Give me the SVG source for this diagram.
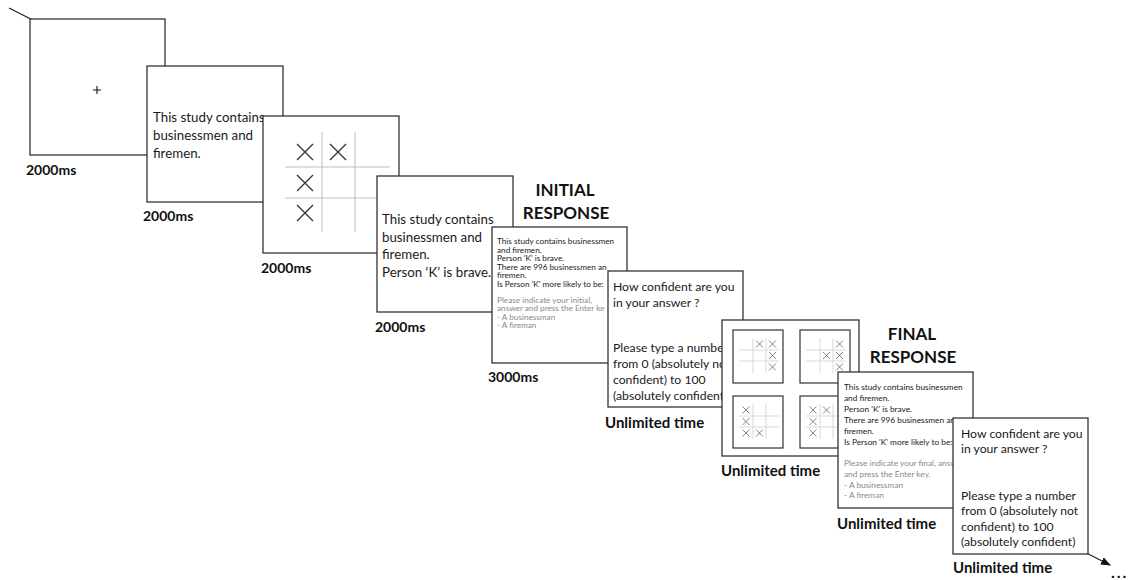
<svg xmlns="http://www.w3.org/2000/svg" width="1137" height="580" viewBox="0 0 1137 580">
<defs>
<style>
.box{fill:#fff;stroke:#333;stroke-width:1.3}
.sub{fill:#fff;stroke:#333;stroke-width:1.2}
.t{font-family:Lato,"Liberation Sans",sans-serif;fill:#1a1a1a}
.m{font-size:13.3px}
.c{font-size:12.2px}
.s{font-size:8.2px}
.s2{font-size:8.3px}
.g{fill:#8a8a8a}
.lbl{font-family:Lato,"Liberation Sans",sans-serif;font-weight:bold;fill:#111;font-size:14px}
.ut{font-size:15px}
.hd{font-size:17px;text-anchor:middle}
.grid{stroke:#bdbdbd;stroke-width:1;fill:none}
.sgrid{stroke:#cfcfcf;stroke-width:0.8;fill:none}
.x{stroke:#333;stroke-width:1.3;fill:none}
.sx{stroke:#666;stroke-width:0.8;fill:none}
</style>
<marker id="ah" markerWidth="10" markerHeight="8" refX="9" refY="4" orient="auto" markerUnits="userSpaceOnUse">
<path d="M0 0 L10 4 L0 8 Z" fill="#111"/>
</marker>
</defs>
<rect width="1137" height="580" fill="#fff"/>
<g id="connectors">
<line x1="9" y1="8" x2="1110" y2="565" stroke="#222" stroke-width="1.2" marker-end="url(#ah)"/>
</g>
<g id="fixation">
<rect class="box" x="30" y="19" width="135" height="136"/>
<path d="M93 90 H101 M97 86 V94" stroke="#111" stroke-width="1.1"/>
<text class="lbl" x="26" y="175">2000ms</text>
</g>
<g id="intro">
<rect class="box" x="147" y="66" width="136" height="136"/>
<text class="t m" x="153" y="122">This study contains</text>
<text class="t m" x="153" y="140">businessmen and</text>
<text class="t m" x="153" y="158">firemen.</text>
<text class="lbl" x="143" y="221">2000ms</text>
</g>
<g id="grid">
<rect class="box" x="263" y="116" width="136" height="137"/>
<path class="grid" d="M285 167 H390 M285 198 H390 M322 132 V232 M355 132 V232"/>
<path class="x" d="M297 144 L313 160 M313 144 L297 160 M330 144 L346 160 M346 144 L330 160 M297 175 L313 191 M313 175 L297 191 M297 205 L313 221 M313 205 L297 221"/>
<text class="lbl" x="261" y="273">2000ms</text>
</g>
<g id="person">
<rect class="box" x="377" y="176" width="136" height="136"/>
<text class="t m" x="382" y="224">This study contains</text>
<text class="t m" x="382" y="242">businessmen and</text>
<text class="t m" x="382" y="259">firemen.</text>
<text class="t m" x="382" y="277">Person ‘K’ is brave.</text>
<text class="lbl" x="375" y="332">2000ms</text>
</g>
<g id="initial-response">
<text class="lbl hd" x="565" y="196">INITIAL</text>
<text class="lbl hd" x="566" y="219">RESPONSE</text>
<rect class="box" x="492" y="227" width="135" height="136"/>
<text class="t s" x="497" y="244">This study contains businessmen</text>
<text class="t s" x="497" y="252.5">and firemen.</text>
<text class="t s" x="497" y="261">Person 'K' is brave.</text>
<text class="t s" x="497" y="269.5">There are 996 businessmen an</text>
<text class="t s" x="497" y="278">firemen.</text>
<text class="t s" x="497" y="286.5">Is Person 'K' more likely to be:</text>
<text class="t s g" x="497" y="302.5">Please indicate your initial,</text>
<text class="t s g" x="497" y="311">answer and press the Enter ke</text>
<text class="t s g" x="497" y="319.5">- A businessman</text>
<text class="t s g" x="497" y="328">- A fireman</text>
<text class="lbl" x="488" y="382">3000ms</text>
</g>
<g id="confidence-1">
<rect class="box" x="608" y="271" width="135" height="136"/>
<text class="t c" x="613" y="291">How confident are you</text>
<text class="t c" x="613" y="307">in your answer ?</text>
<text class="t c" x="613" y="352">Please type a numbe</text>
<text class="t c" x="613" y="368">from 0 (absolutely nc</text>
<text class="t c" x="613" y="384">confident) to 100</text>
<text class="t c" x="613" y="400">(absolutely confident</text>
<text class="lbl ut" x="605" y="428">Unlimited time</text>
</g>
<g id="four-grids">
<rect class="box" x="722" y="320" width="137" height="136"/>
<rect class="sub" x="733" y="330" width="50" height="53"/>
<rect class="sub" x="800" y="330" width="50" height="53"/>
<rect class="sub" x="733" y="396" width="50" height="52"/>
<rect class="sub" x="800" y="396" width="50" height="52"/>
<path class="sgrid" d="M739 350 H779 M739 361 H779 M753 338 V373 M766 338 V373 M806 350 H846 M806 361 H846 M820 338 V373 M833 338 V373 M739 416 H779 M739 427 H779 M753 404 V439 M766 404 V439 M806 416 H846 M806 427 H846 M820 404 V439 M833 404 V439"/>
<path class="sx" d="M756 340.5 l7 7 m0 -7 l-7 7 M769 340.5 l7 7 m0 -7 l-7 7 M769 352 l7 7 m0 -7 l-7 7 M769 363.5 l7 7 m0 -7 l-7 7 M836 340.5 l7 7 m0 -7 l-7 7 M823 352 l7 7 m0 -7 l-7 7 M836 352 l7 7 m0 -7 l-7 7 M836 363.5 l7 7 m0 -7 l-7 7 M742.5 406.5 l7 7 m0 -7 l-7 7 M742.5 418 l7 7 m0 -7 l-7 7 M742.5 429.5 l7 7 m0 -7 l-7 7 M756 429.5 l7 7 m0 -7 l-7 7 M809.5 406.5 l7 7 m0 -7 l-7 7 M823 406.5 l7 7 m0 -7 l-7 7 M809.5 418 l7 7 m0 -7 l-7 7 M809.5 429.5 l7 7 m0 -7 l-7 7"/>
<text class="lbl ut" x="721" y="476">Unlimited time</text>
</g>
<g id="final-response">
<text class="lbl hd" x="912" y="340">FINAL</text>
<text class="lbl hd" x="913" y="363">RESPONSE</text>
<rect class="box" x="838" y="372" width="135" height="136"/>
<text class="t s2" x="844" y="390">This study contains businessmen</text>
<text class="t s2" x="844" y="401">and firemen.</text>
<text class="t s2" x="844" y="412">Person 'K' is brave.</text>
<text class="t s2" x="844" y="423">There are 996 businessmen an</text>
<text class="t s2" x="844" y="433.5">firemen.</text>
<text class="t s2" x="844" y="444.5">Is Person 'K' more likely to be:</text>
<text class="t s2 g" x="844" y="465.5">Please indicate your final, answ</text>
<text class="t s2 g" x="844" y="476.5">and press the Enter key.</text>
<text class="t s2 g" x="844" y="487.5">- A businessman</text>
<text class="t s2 g" x="844" y="498">- A fireman</text>
<text class="lbl ut" x="837" y="529">Unlimited time</text>
</g>
<g id="confidence-2">
<rect class="box" x="953" y="418" width="135" height="136"/>
<text class="t c" x="961" y="438">How confident are you</text>
<text class="t c" x="961" y="453">in your answer ?</text>
<text class="t c" x="961" y="500">Please type a number</text>
<text class="t c" x="961" y="515">from 0 (absolutely not</text>
<text class="t c" x="961" y="531">confident) to 100</text>
<text class="t c" x="961" y="546">(absolutely confident)</text>
<text class="lbl ut" x="953" y="573">Unlimited time</text>
</g>
<g id="ellipsis">
<text class="lbl" x="1111" y="578" style="font-size:16px;letter-spacing:2px">...</text>
</g>
</svg>
